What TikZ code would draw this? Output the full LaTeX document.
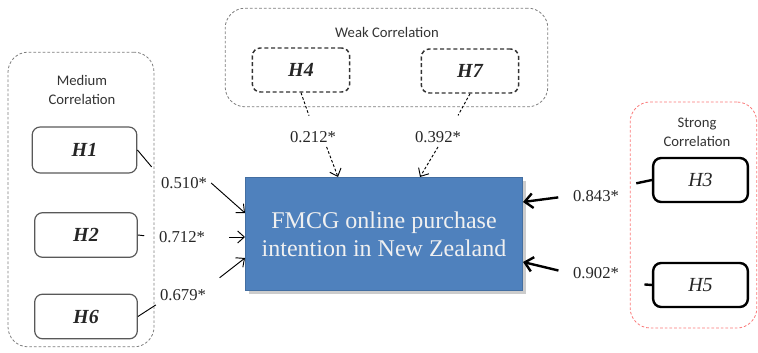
\documentclass[tikz,border=0pt]{standalone}
\usepackage{fontspec}
\setmainfont{Liberation Serif}
\newfontfamily\calibrifont{Carlito}
\usetikzlibrary{arrows.meta, shadows, calc}
\definecolor{boxblue}{RGB}{79,129,189}
\definecolor{groupgray}{RGB}{125,125,125}
\definecolor{strongred}{RGB}{250,120,120}
\tikzstyle{group} = [rectangle, draw=groupgray, dash pattern=on 2pt off 1.5pt, rounded corners=15pt, line width=0.6pt]
\tikzstyle{grouplabel} = [font=\calibrifont\fontsize{11}{14.5}\selectfont, text=black!80, align=center]
\tikzstyle{medium} = [rectangle, rounded corners=6pt, draw=black!65, line width=0.9pt, minimum width=77pt, minimum height=33.5pt, text=black!85, font=\bfseries\itshape\fontsize{15}{18}\selectfont]
\tikzstyle{weak} = [medium, draw=black!80, dash pattern=on 3pt off 2pt, line width=1.1pt, minimum width=73pt, minimum height=33pt]
\tikzstyle{strong} = [medium, draw=black, line width=1.8pt, minimum width=71pt, minimum height=33pt, font=\itshape\fontsize{15}{18}\selectfont]
\tikzstyle{target} = [rectangle, fill=boxblue, draw=boxblue!85!black, line width=0.4pt, minimum width=208pt, minimum height=85pt, text=white!94!black, align=center, font=\fontsize{18}{21}\selectfont, drop shadow={shadow xshift=2.5pt, shadow yshift=-2.5pt, opacity=0.4}]
\tikzstyle{coef} = [font=\fontsize{12.5}{14}\selectfont, text=black!85, inner sep=3pt]
\tikzstyle{arrow} = [-{Straight Barb[length=5pt,width=9pt]}, line width=0.7pt]
\tikzstyle{weakarrow} = [arrow, dash pattern=on 2pt off 1.5pt]
\tikzstyle{strongarrow} = [-{Straight Barb[length=6pt,width=11pt]}, line width=1.8pt]

\begin{document}
\begin{tikzpicture}[x=0.75pt, y=-0.75pt]
\useasboundingbox (0,0) rectangle (758,353);

% Groups
\node (mediumgroup) [group, minimum width=109.5pt, minimum height=221pt] at (81,199.5) {};
\node (mediumlabel) [grouplabel] at (82,90) {Medium\\Correlation};
\node (weakgroup) [group, minimum width=242pt, minimum height=74pt] at (386.5,57.5) {};
\node (weaklabel) [grouplabel] at (387,32) {Weak Correlation};
\node (stronggroup) [group, draw=strongred, minimum width=95pt, minimum height=169.5pt] at (693.5,215) {};
\node (stronglabel) [grouplabel] at (697,132) {Strong\\Correlation};

% Hypotheses
\node (H1) [medium, minimum width=78.5pt, minimum height=34.5pt] at (84.5,150) {H1};
\node (H2) [medium] at (86,235) {H2};
\node (H6) [medium] at (86,316.5) {H6};
\node (H4) [weak] at (301,70) {H4};
\node (H7) [weak] at (470,71) {H7};
\node (H3) [strong] at (700.5,180) {H3};
\node (H5) [strong] at (700.5,285) {H5};

% Outcome
\node (intention) [target] at (384,234) {FMCG online purchase\\intention in New Zealand};

% Coefficients
\node (c1) [coef] at (184,183) {0.510*};
\node (c2) [coef] at (182,237) {0.712*};
\node (c6) [coef] at (183,295) {0.679*};
\node (c4) [coef] at (313,137) {0.212*};
\node (c7) [coef] at (438,137) {0.392*};
\node (c3) [coef] at (596,196) {0.843*};
\node (c5) [coef] at (596,273) {0.902*};

% Arrow ends on the outcome box
\coordinate (a1) at (245,213);
\coordinate (a2) at (245,237);
\coordinate (a6) at (245,258);
\coordinate (a4) at (338,177);
\coordinate (a7) at (420,177);
\coordinate (a3) at (523,202);
\coordinate (a5) at (523,262);

% Medium correlation
\draw [line width=0.7pt, shorten >=6pt] (H1.east) -- (c1.north west);
\draw [arrow] (c1.east) -- (a1);
\draw [line width=0.7pt, shorten >=8pt] (H2.east) -- (c2.west);
\draw [arrow, shorten <=15pt] (c2.east) -- (a2);
\draw [line width=0.7pt] (H6.east) -- (c6.south west);
\draw [arrow, shorten <=9pt] (c6.north east) -- (a6);

% Weak correlation
\draw [line width=0.7pt, dash pattern=on 2pt off 1.5pt, shorten >=9pt] (H4.south) -- (c4.north);
\draw [weakarrow] ($(c4.south)!0.5!(c4.south east)$) -- (a4);
\draw [line width=0.7pt, dash pattern=on 2pt off 1.5pt, shorten >=10pt] (H7.south) -- ($(c7.north)!0.5!(c7.north east)$);
\draw [weakarrow] (c7.south) -- (a7);

% Strong correlation
\draw [line width=1.8pt, shorten >=10pt] (H3.west) -- (c3.north east);
\draw [strongarrow, shorten <=8pt] (c3.west) -- (a3);
\draw [line width=1.8pt, shorten >=16pt] (H5.west) -- (c5.south east);
\draw [strongarrow, shorten <=8pt] (c5.west) -- (a5);

\end{tikzpicture}
\end{document}
